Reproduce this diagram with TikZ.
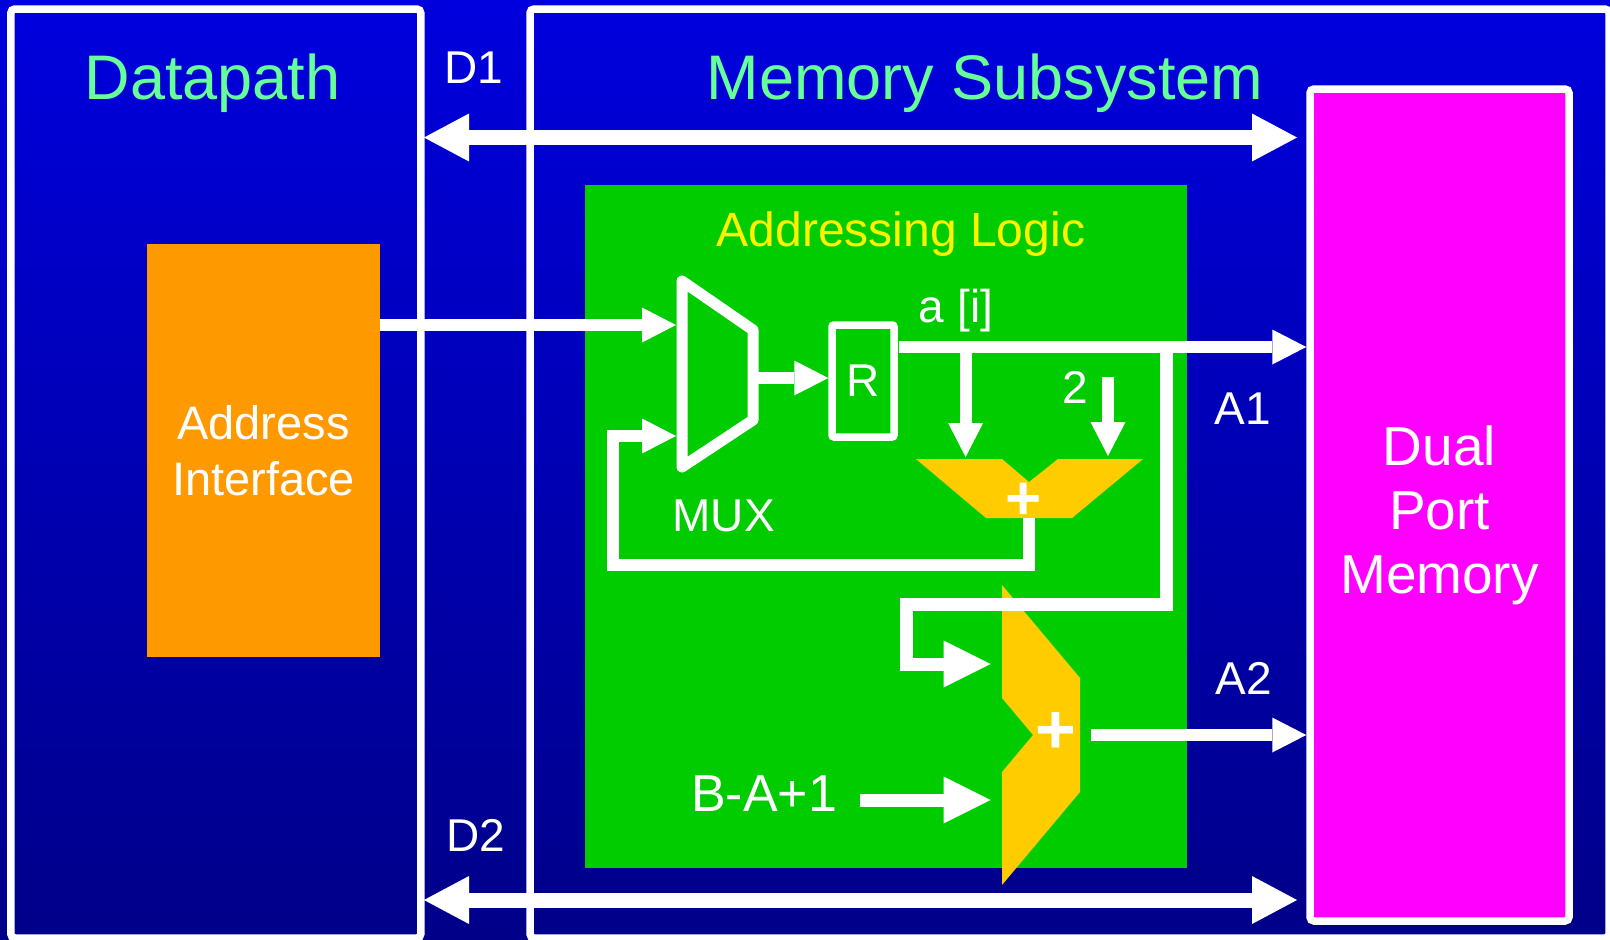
\documentclass[tikz,border=0pt]{standalone}
\usepackage{fontspec}
\setmainfont{Liberation Sans}
\usetikzlibrary{arrows.meta}

\definecolor{bgtop}{RGB}{0,0,222}
\definecolor{bgbot}{RGB}{0,0,136}
\definecolor{titlegreen}{RGB}{102,255,153}
\definecolor{logicgreen}{RGB}{0,204,0}
\definecolor{addrorange}{RGB}{255,153,0}
\definecolor{addyellow}{RGB}{255,204,0}
\definecolor{memmagenta}{RGB}{255,0,255}

\newcommand{\pxfont}[2]{\fontsize{#1}{#2}\selectfont}

\begin{document}
\begin{tikzpicture}[x=1pt, y=-1pt,
    every node/.style={text=white, font=\pxfont{46}{56}},
    boxframe/.style={draw=white, line width=7.5pt, rounded corners=4pt, inner sep=0pt},
    titletxt/.style={text=titlegreen, font=\pxfont{63}{70}, anchor=base},
    tag/.style={anchor=base},
    busarrow/.style={white, line width=15pt,
        {Triangle[length=45pt,width=48pt,line width=0pt]}-{Triangle[length=45pt,width=48pt,line width=0pt]}},
    wireline/.style={white, line width=12pt},
    wirearrow/.style={wireline, -{Triangle[length=34pt,width=35pt,line width=0pt]}},
    widearrow/.style={white, line width=13pt, -{Triangle[length=47pt,width=47pt,line width=0pt]}},
    addershape/.style={fill=addyellow},
    plussign/.style={font=\pxfont{62}{62}\bfseries}]

    % background
    \useasboundingbox (0,0) rectangle (1610,940);
    \shade[top color=bgtop, bottom color=bgbot] (0,0) rectangle (1610,940);

    % Datapath
    \node[boxframe, minimum width=410pt, minimum height=929pt] (dp) at (215.8,473.5) {};
    \node[titletxt] (dptitle) at (212.5,99) {Datapath};
    \node[fill=addrorange, inner sep=0pt, minimum width=233pt, minimum height=413pt,
        align=center, font=\pxfont{47}{56.5}] (ai) at (263.5,450.5) {Address\\Interface};

    % Memory subsystem
    \node[boxframe, minimum width=1079pt, minimum height=929pt] (mem) at (1069.5,473.5) {};
    \node[titletxt] (memtitle) at (985,99) {Memory Subsystem};
    \node[boxframe, fill=memmagenta, minimum width=259pt, minimum height=832pt] (dpm) at (1439.5,505) {};
    \node[align=center, font=\pxfont{55}{64}] (dpmtxt) at (1439.5,515) {Dual\\Port\\Memory};

    % Addressing logic
    \node[fill=logicgreen, inner sep=0pt, minimum width=602pt, minimum height=683pt] (al) at (886,526.5) {};
    \node[tag, text=yellow, font=\pxfont{48}{48}] (altitle) at (901,246) {Addressing Logic};

    % mux
    \draw[white, line width=11pt, line join=round] (682,281) -- (753,330) -- (753,420) -- (682,467) -- cycle;
    \coordinate (muxin1) at (676,325);
    \coordinate (muxin2) at (676,436);
    \coordinate (muxout) at (758,378);
    \node[tag] (muxtxt) at (723.6,531.7) {MUX};

    % register
    \node[boxframe, rounded corners=2pt, minimum width=62pt, minimum height=112pt] (reg) at (863,381) {R};

    % adders
    \fill[addershape] (916,459) -- (1002,459) -- (1029,482) -- (1058,459) -- (1143,459) -- (1072,518) -- (986,518) -- cycle;
    \node[plussign] (add1) at (1024,501) {+};
    \fill[addershape] (1002,585) -- (1080,678) -- (1080,792) -- (1002,885) -- (1002,772) -- (1033,735) -- (1002,698) -- cycle;
    \node[plussign, font=\pxfont{70}{70}\bfseries] (add2) at (1056,733) {+};

    % ports
    \coordinate (regout) at (899,347);
    \coordinate (tap1) at (965.6,347);
    \coordinate (tap2) at (1166,347);
    \coordinate (add1in1) at (965.6,457);
    \coordinate (add1in2) at (1108,456);
    \coordinate (add1out) at (1029,518);
    \coordinate (fbk) at (612.5,565);
    \coordinate (loopc) at (906,604);
    \coordinate (add2in1) at (990.7,664);
    \coordinate (add2in2) at (990.7,800);
    \coordinate (add2out) at (1091,735);

    % labels
    \node[tag] (ailbl) at (956,322) {a [i]};
    \node[tag] (twolbl) at (1075.6,403) {2};
    \node[tag] (a1lbl) at (1242.5,424) {A1};
    \node[tag] (a2lbl) at (1244,694.5) {A2};
    \node[tag] (d1lbl) at (474,83.3) {D1};
    \node[tag] (d2lbl) at (476,851) {D2};
    \node[tag, font=\pxfont{52}{52}] (bal) at (764,811) {B-A+1};

    % connections
    \draw[wirearrow] (ai.east |- muxin1) -- (muxin1);
    \draw[wirearrow] (muxout) -- (reg.west |- muxout);
    \draw[wirearrow] (regout) -- (regout -| dpm.west);
    \draw[wirearrow] (tap1) -- (add1in1);
    \draw[wirearrow] (add1in2 |- 0,377) -- (add1in2);
    \draw[wirearrow] (add1out) |- (fbk) |- (muxin2);
    \draw[widearrow] (tap2) |- (loopc) |- (add2in1);
    \draw[widearrow] ([xshift=19pt]bal.east |- add2in2) -- (add2in2);
    \draw[wirearrow] (add2out) -- (add2out -| dpm.west);

    % data buses
    \coordinate (d1l) at (424,137.5);
    \coordinate (d1r) at (1297,137.5);
    \coordinate (d2l) at (424,900);
    \coordinate (d2r) at (1297,900);
    \draw[busarrow] (d1l) -- (d1r);
    \draw[busarrow] (d2l) -- (d2r);
\end{tikzpicture}
\end{document}
